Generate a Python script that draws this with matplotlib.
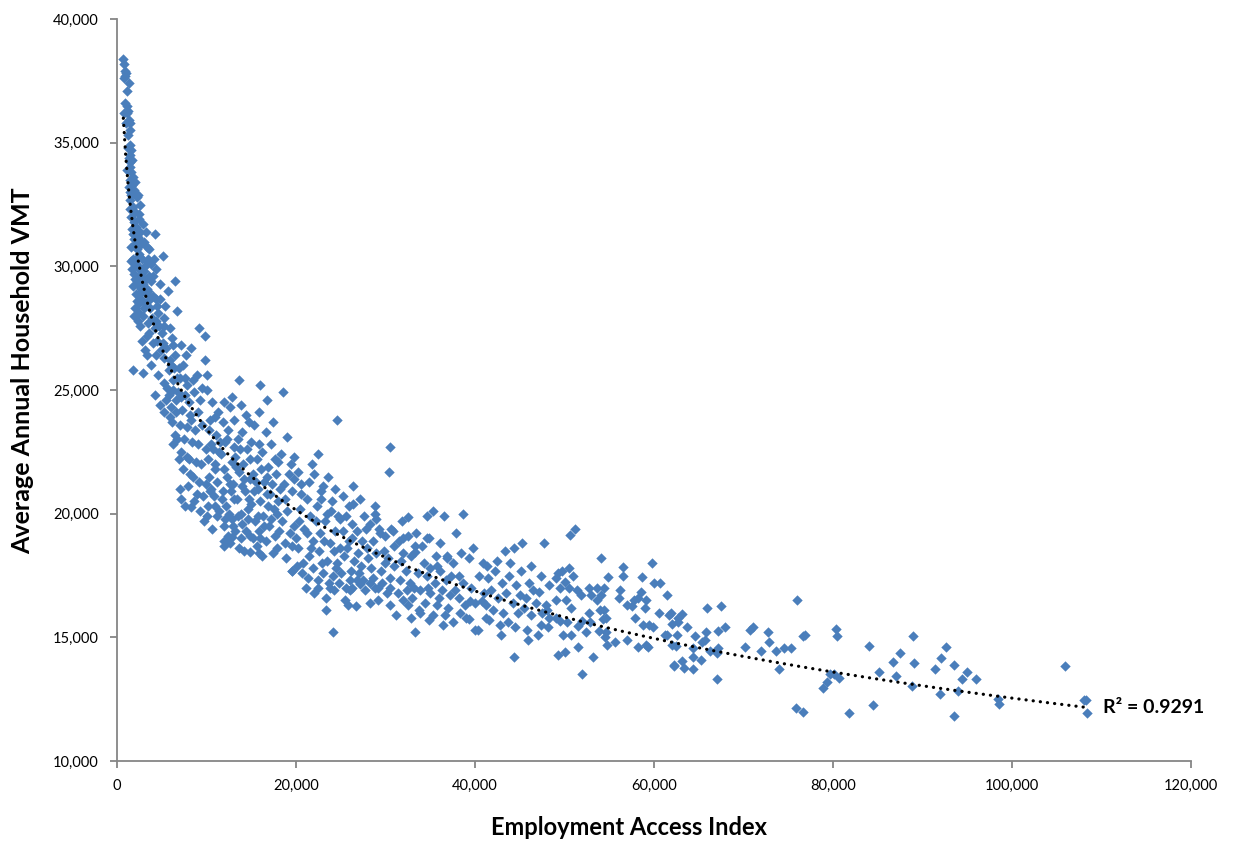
import numpy as np
import matplotlib
matplotlib.use("Agg")
import matplotlib.pyplot as plt
from matplotlib.ticker import FuncFormatter

plt.rcParams["font.family"] = ["Lato", "DejaVu Sans"]

# (employment access index, annual household VMT), both in thousands
steep_pts = [
    (0.7, 38.4), (0.75, 38.2), (0.9, 37.9), (1.0, 37.8), (0.8, 37.6), (0.9, 37.7), (1.3, 37.4), (1.1, 37.1),
    (0.9, 36.6), (1.1, 36.5), (1.1, 36.2), (0.8, 36.2), (1.2, 36.3), (1.5, 35.8), (1.0, 35.8), (1.3, 35.9),
    (1.2, 35.3), (1.4, 35.5), (1.5, 34.9), (1.6, 34.7), (1.5, 34.5), (1.3, 34.4), (1.4, 34.2), (1.5, 34.0),
    (1.6, 33.8), (1.8, 33.6), (1.5, 33.5), (1.3, 33.2), (1.7, 33.3), (1.4, 33.0), (1.9, 33.1), (1.6, 32.9),
    (2.2, 32.8), (1.5, 32.7), (2.6, 32.5), (1.8, 32.4), (2.0, 32.2), (1.6, 32.0), (2.4, 31.9), (1.9, 31.8),
    (2.9, 31.7), (2.1, 31.6), (1.7, 31.5), (4.2, 31.3), (2.6, 31.4), (2.3, 31.2), (1.9, 31.1), (3.0, 31.0),
    (2.7, 30.9), (1.6, 30.8), (3.3, 30.8), (2.2, 30.7), (2.5, 30.5), (5.1, 30.4), (1.8, 30.3), (2.8, 30.3),
    (3.4, 30.2), (2.1, 30.1), (3.8, 30.1), (2.5, 29.9), (4.4, 29.9), (3.0, 29.8), (1.9, 29.7), (2.6, 29.6),
    (3.6, 29.6), (6.5, 29.4), (2.2, 29.4), (2.9, 29.3), (4.8, 29.3), (1.8, 29.2), (3.3, 29.1), (5.7, 29.0),
    (2.4, 28.9), (4.0, 28.8), (2.7, 28.7), (3.1, 28.5), (2.0, 28.3), (3.7, 28.3), (6.7, 28.2), (2.4, 28.1),
    (4.6, 28.1), (2.9, 28.0), (5.2, 27.9), (2.3, 27.8), (3.5, 27.7), (4.2, 27.5), (3.3, 27.2), (5.0, 27.3),
    (6.1, 27.1), (4.0, 26.9), (3.1, 26.6), (4.4, 26.4), (3.8, 26.0), (1.8, 25.8), (2.9, 25.7),
    (1.2, 34.8), (1.7, 34.3), (1.1, 33.9), (2.0, 33.4), (1.4, 32.3), (2.3, 32.9), (1.8, 31.3), (2.5, 32.1),
    (3.2, 31.4), (2.0, 30.9), (2.8, 31.0), (3.6, 30.7), (1.6, 30.2), (2.3, 30.0), (3.1, 30.0), (4.0, 29.6),
    (2.0, 29.5), (2.7, 29.1), (3.5, 29.0), (4.3, 28.7), (2.2, 28.6), (3.0, 28.3), (3.9, 27.9), (2.6, 27.6),
    (4.7, 27.6), (3.3, 28.9), (2.5, 29.2), (3.8, 29.4), (2.1, 28.9), (1.7, 29.9), (2.8, 29.8), (3.2, 29.5),
    (4.1, 30.3), (4.8, 28.7), (5.4, 28.4), (3.6, 27.3), (4.5, 27.0), (2.8, 27.0), (3.4, 26.4), (4.9, 26.6),
    (2.5, 28.5), (1.9, 28.0), (2.4, 30.4), (3.5, 30.3), (2.9, 29.0), (3.7, 28.7), (4.5, 28.4), (5.3, 27.6),
    (5.9, 27.5), (4.3, 27.8), (5.1, 26.9), (6.0, 26.0), (5.2, 26.3), (6.3, 25.4), (6.9, 25.9), (5.8, 24.8),
    (7.6, 25.5), (6.6, 24.6),
]

near_pts = [
    (9.2, 27.5), (9.8, 27.2), (8.3, 26.7), (7.1, 26.8), (5.5, 26.7), (6.5, 26.4), (9.8, 26.2), (5.9, 26.2),
    (7.4, 26.0), (10.0, 25.6), (4.6, 25.6), (6.7, 25.5), (8.5, 25.4), (5.2, 25.3), (7.8, 25.2), (10.1, 25.0),
    (6.2, 25.0), (4.2, 24.8), (7.1, 24.7), (4.8, 24.4), (8.0, 24.5), (5.5, 24.6), (6.1, 23.7), (7.2, 22.5),
    (6.9, 22.2), (7.8, 22.3), (7.0, 21.0), (7.2, 20.6), (7.6, 20.3), (8.3, 20.25), (8.1, 21.6), (9.7, 19.7),
    (5.8, 25.8), (6.4, 25.9), (7.0, 25.5), (5.6, 25.1), (6.8, 24.9), (7.6, 24.8), (8.6, 24.9), (9.3, 24.6),
    (6.0, 24.3), (6.6, 24.1), (7.3, 24.2), (8.2, 24.0), (9.0, 24.1), (5.9, 23.9), (7.0, 23.6), (7.8, 23.5),
    (8.7, 23.4), (9.5, 23.6), (10.3, 23.4), (6.5, 23.2), (7.5, 23.0), (8.4, 22.9), (9.1, 22.8), (9.9, 22.6),
    (6.3, 22.8), (8.0, 22.2), (8.8, 22.1), (9.4, 22.0), (10.2, 22.2), (7.4, 21.8), (8.5, 21.5), (9.2, 21.3),
    (9.9, 21.2), (7.9, 21.1), (8.9, 20.8), (9.6, 20.7), (8.6, 20.5), (10.4, 20.9), (9.3, 20.1), (10.0, 19.9),
    (6.7, 23.0), (5.3, 24.1), (6.2, 26.8), (8.9, 25.6), (9.5, 25.1), (7.7, 26.4), (10.6, 24.5), (10.9, 23.9),
    (10.5, 22.8), (8.3, 23.8),
]

mid_pts = [
    (13.6, 25.4), (16.0, 25.2), (18.5, 24.9), (12.0, 24.5), (12.6, 24.3), (11.3, 24.1), (14.4, 24.0), (13.1, 23.8),
    (15.3, 23.6), (11.8, 23.7), (12.4, 23.4), (14.0, 23.3), (16.6, 23.3), (11.1, 23.2), (13.5, 23.0), (15.0, 22.9),
    (17.2, 22.8), (12.1, 22.9), (10.7, 22.6), (14.5, 22.6), (16.2, 22.5), (11.6, 22.4), (13.2, 22.3), (18.3, 22.4),
    (15.6, 22.2), (12.8, 22.1), (14.1, 22.0), (10.9, 22.0), (16.9, 21.9), (19.4, 22.0), (11.9, 21.8), (13.6, 21.7),
    (15.2, 21.6), (17.8, 21.6), (12.3, 21.5), (14.8, 21.4), (16.4, 21.3), (11.2, 21.3), (13.0, 21.2), (18.6, 21.2),
    (15.8, 21.0), (12.7, 20.9), (14.3, 20.9), (17.1, 20.8), (19.6, 20.9), (10.8, 20.7), (11.7, 20.6), (13.4, 20.6),
    (16.0, 20.5), (18.0, 20.5), (15.0, 20.4), (12.2, 20.3), (14.6, 20.2), (17.5, 20.2), (19.0, 20.1), (11.4, 20.1),
    (13.8, 20.0), (16.3, 19.9), (12.9, 19.8), (15.4, 19.7), (18.4, 19.7), (14.0, 19.6), (11.9, 19.5), (17.0, 19.5),
    (19.8, 19.5), (13.2, 19.3), (15.9, 19.3), (12.4, 19.1), (14.8, 19.1), (17.6, 19.1), (16.6, 18.9), (11.9, 18.7),
    (12.8, 19.07), (14.9, 18.45), (16.2, 18.3), (13.6, 18.6), (18.8, 18.8), (15.6, 18.7), (19.5, 17.7), (17.4, 18.4),
    (18.9, 18.2), (10.4, 23.8), (11.5, 22.9), (12.9, 24.7), (14.7, 23.7), (13.9, 24.4), (15.9, 24.1), (17.4, 23.7),
    (16.8, 24.6), (19.0, 23.1), (10.3, 21.5), (11.0, 21.8), (19.8, 21.4), (20.2, 21.7), (12.5, 20.0), (14.2, 21.4),
    (16.8, 21.5), (17.9, 20.0), (19.3, 19.2), (13.1, 20.6), (15.3, 20.9), (18.2, 21.0), (11.2, 19.9), (10.6, 19.4),
    (12.0, 18.9), (14.4, 19.3), (16.0, 19.0), (17.9, 18.6), (13.5, 19.9), (15.8, 19.9), (16.9, 20.3),
    (10.5, 21.0), (11.0, 20.3), (11.8, 20.9), (12.6, 21.2), (13.3, 21.9), (14.0, 21.1), (14.7, 20.6), (15.5, 21.3),
    (16.1, 21.8), (16.7, 20.8), (17.3, 21.2), (18.0, 22.1), (18.8, 20.6), (19.2, 21.6), (12.1, 19.8), (13.0, 19.5),
    (13.8, 19.0), (14.6, 19.8), (15.2, 19.0), (16.4, 19.5), (17.2, 19.8), (18.1, 19.3), (19.6, 18.7), (12.6, 18.8),
    (14.2, 18.5), (15.9, 18.4), (11.4, 22.5), (12.3, 23.0), (13.7, 22.6), (14.9, 22.2), (15.9, 22.8), (17.7, 22.2),
    (10.2, 20.3), (13.1, 22.7),
]

outer_pts = [
    (24.6, 23.8), (30.5, 22.7), (30.4, 21.7), (22.5, 22.4), (19.8, 22.3), (21.8, 22.0), (23.0, 21.1), (22.8, 20.9),
    (26.4, 21.1), (25.2, 20.7), (28.8, 20.3), (26.4, 20.4), (23.9, 20.1), (24.9, 19.8), (28.8, 20.0), (27.6, 19.9),
    (30.6, 19.4), (29.3, 19.4), (29.4, 19.2), (28.3, 19.6), (26.2, 19.6), (29.8, 18.5), (26.8, 17.3), (27.1, 17.15),
    (25.6, 17.0), (26.0, 16.9), (26.3, 17.0), (24.2, 16.9), (23.7, 17.2), (22.4, 17.3), (21.3, 17.4), (20.7, 17.6),
    (19.6, 17.7), (29.2, 17.0), (28.6, 17.4), (28.3, 17.2), (29.6, 17.2), (26.7, 16.25), (25.5, 16.5), (23.4, 16.1),
    (24.1, 15.2), (28.3, 16.4), (29.2, 16.5),
    (20.5, 21.2), (21.2, 20.6), (22.0, 21.6), (23.6, 21.5), (24.3, 21.0), (20.4, 20.2), (21.6, 19.9), (22.3, 20.3),
    (23.2, 19.7), (24.4, 19.3), (25.6, 19.9), (26.8, 19.3), (27.4, 18.9), (20.9, 19.4), (21.9, 18.9), (22.7, 19.2),
    (23.8, 18.8), (24.9, 18.6), (25.9, 18.9), (27.9, 18.6), (28.9, 18.4), (29.9, 19.1), (20.2, 18.6), (21.4, 18.3),
    (22.6, 18.5), (23.5, 18.1), (24.6, 18.0), (25.4, 18.3), (26.5, 18.1), (27.3, 17.9), (28.4, 17.8), (29.5, 17.7),
    (20.8, 18.0), (21.9, 17.8), (23.0, 17.6), (24.1, 17.5), (25.0, 17.6), (26.1, 17.7), (27.0, 17.6), (28.0, 18.2),
    (22.0, 16.8), (24.8, 17.2), (27.7, 16.9), (20.0, 19.0), (25.3, 19.3), (26.9, 18.4), (22.2, 19.7), (28.6, 18.9),
    (24.0, 20.5), (27.2, 20.6), (21.1, 17.0), (23.3, 16.6), (29.9, 18.0), (25.8, 16.3),
    (20.6, 20.8), (21.5, 21.3), (22.8, 20.6), (23.5, 20.0), (24.7, 19.9), (25.9, 20.3), (20.3, 19.7), (21.2, 19.2),
    (23.1, 18.9), (24.2, 18.5), (25.7, 18.6), (26.3, 19.0), (27.8, 19.4), (28.9, 19.8), (21.7, 18.6), (22.9, 18.0),
    (24.5, 17.8), (26.0, 17.3), (27.5, 17.3), (28.8, 17.0), (20.1, 17.9), (22.5, 17.0), (23.8, 17.0),
    (35.3, 20.1), (34.6, 19.9), (36.5, 19.9), (38.6, 20.0), (32.5, 19.85), (31.8, 19.7), (33.4, 19.2), (32.0, 19.0),
    (32.5, 19.1), (34.6, 19.0), (34.9, 19.0), (36.1, 18.8), (38.4, 18.4), (39.3, 18.2), (36.9, 18.3), (36.9, 18.2),
    (33.3, 18.7), (33.3, 18.45), (32.9, 18.3), (34.1, 18.7), (30.9, 18.7), (32.0, 18.4), (40.9, 18.0), (41.3, 17.9),
    (35.7, 17.9), (35.0, 17.8), (36.1, 17.7), (37.3, 17.5), (38.2, 17.5), (40.4, 17.5), (34.6, 17.5), (32.7, 17.2),
    (31.6, 17.3), (30.5, 17.4), (30.5, 17.0), (30.2, 16.8), (31.4, 16.8), (32.4, 16.9), (33.2, 17.0), (33.9, 16.9),
    (34.7, 17.0), (35.0, 16.8), (36.3, 16.9), (37.2, 16.7), (38.2, 16.6), (39.4, 16.45), (40.0, 16.4), (40.8, 16.45),
    (41.2, 15.8), (40.0, 15.3), (40.3, 15.3), (39.0, 15.8), (39.3, 15.75), (38.3, 16.0), (36.6, 15.9), (35.3, 15.9),
    (36.4, 15.5), (33.7, 16.1), (33.9, 16.0), (32.5, 16.3), (30.5, 16.3), (33.3, 15.2),
    (31.0, 17.9), (31.7, 18.1), (30.3, 18.2), (32.3, 17.7), (33.6, 17.6), (34.3, 18.0), (35.6, 18.3), (37.5, 18.0),
    (38.7, 17.2), (39.6, 17.0), (37.8, 16.9), (36.7, 17.3), (35.5, 17.2), (33.0, 16.6), (31.9, 16.5), (34.4, 16.4),
    (35.8, 16.3), (37.0, 16.2), (38.9, 16.3), (31.2, 15.9), (32.8, 15.8), (34.9, 15.7), (37.5, 15.6), (36.0, 16.6),
    (30.8, 19.3), (31.5, 18.9), (37.9, 19.2), (39.8, 18.6),
]

far_pts = [
    (51.2, 19.4), (50.6, 19.15), (45.3, 18.8), (44.3, 18.6), (43.4, 18.5), (47.7, 18.8), (46.3, 17.9), (45.1, 17.7),
    (49.3, 17.6), (49.7, 17.7), (50.5, 17.8), (47.4, 17.5), (50.9, 17.5), (50.1, 17.25), (49.1, 17.4), (48.3, 17.1),
    (49.5, 17.0), (50.5, 17.0), (51.4, 16.9), (46.5, 16.9), (47.1, 16.85), (45.7, 16.6), (45.0, 16.7), (51.8, 16.7),
    (49.0, 16.5), (50.2, 16.5), (47.9, 16.3), (48.0, 16.1), (50.7, 16.2), (48.3, 15.8), (49.1, 15.8), (49.5, 15.65),
    (51.9, 15.65), (51.5, 15.45), (50.3, 15.6), (45.8, 15.3), (47.4, 15.5), (48.1, 15.4), (49.8, 15.1), (50.7, 15.1),
    (51.5, 14.6), (49.3, 14.3), (50.0, 14.4), (44.3, 14.2), (51.9, 13.5),
    (41.5, 17.4), (42.2, 17.7), (43.0, 17.2), (43.8, 17.5), (44.6, 17.1), (41.8, 16.9), (42.6, 16.6), (43.5, 16.8),
    (44.2, 16.4), (41.2, 16.3), (42.0, 16.1), (43.1, 16.0), (44.8, 16.0), (45.5, 16.2), (46.2, 15.9), (41.6, 15.7),
    (42.8, 15.5), (43.7, 15.6), (44.5, 15.4), (46.8, 16.4), (47.5, 16.0), (42.4, 18.1), (43.9, 18.0), (41.0, 16.8),
    (42.9, 15.1), (46.0, 17.2), (45.9, 14.9), (47.0, 15.1),
    (52.7, 17.0), (53.6, 17.0), (54.4, 17.0), (56.2, 16.9), (58.5, 16.85), (61.5, 16.7), (53.0, 16.7), (54.1, 16.7),
    (53.6, 16.5), (56.1, 16.6), (57.0, 16.3), (57.8, 16.5), (58.2, 16.6), (57.5, 16.25), (59.1, 16.5), (52.7, 16.0),
    (54.0, 16.1), (54.4, 16.1), (54.6, 15.8), (54.3, 15.75), (57.9, 15.8), (59.0, 16.2), (60.5, 16.0), (61.7, 15.9),
    (62.7, 15.8), (52.9, 15.6), (52.4, 15.2), (53.9, 15.25), (54.6, 15.2), (54.5, 15.0), (54.8, 14.7), (55.6, 14.8),
    (57.0, 14.9), (58.2, 14.6), (58.8, 15.5), (59.4, 15.5), (59.9, 15.4), (61.2, 15.1), (61.5, 15.1), (62.5, 14.65),
    (59.1, 14.7), (59.3, 14.6), (53.2, 14.2), (62.2, 13.9), (54.1, 18.2), (59.8, 18.0), (56.5, 17.85), (54.9, 17.45),
    (56.5, 17.5), (58.7, 17.45), (60.0, 17.2), (60.7, 17.2),
]

tail_pts = [
    (76.0, 16.5), (65.9, 16.2), (67.5, 16.25), (63.1, 15.95), (61.9, 16.0), (62.7, 15.6), (62.0, 15.55), (63.7, 15.4),
    (70.7, 15.3), (71.1, 15.4), (72.7, 15.2), (67.2, 15.25), (67.9, 15.4), (65.8, 15.2), (62.6, 15.1), (64.6, 15.05),
    (65.7, 14.9), (65.4, 14.8), (72.8, 14.8), (76.7, 15.05), (76.9, 15.1), (80.3, 15.35), (80.4, 15.05), (62.0, 14.7),
    (64.4, 14.55), (67.2, 14.55), (67.0, 14.35), (66.3, 14.45), (70.2, 14.6), (71.9, 14.45), (73.6, 14.45), (74.5, 14.55),
    (75.3, 14.55), (84.0, 14.65), (63.1, 14.05), (64.3, 14.2), (65.3, 14.1), (62.2, 13.85), (63.4, 13.75), (64.3, 13.7),
    (67.0, 13.3), (74.0, 13.7), (79.7, 13.5), (80.1, 13.5), (79.3, 13.2), (78.9, 12.95), (80.7, 13.35), (75.9, 12.15),
    (76.6, 12.0), (81.8, 11.95), (88.9, 15.05), (87.5, 14.35), (86.7, 14.0), (89.0, 13.95), (85.1, 13.6), (87.0, 13.45),
    (88.8, 13.05), (84.5, 12.25), (92.6, 14.6), (92.1, 14.15), (93.5, 13.9), (91.4, 13.7), (95.0, 13.6), (94.4, 13.3),
    (96.0, 13.3), (94.0, 12.85), (91.9, 12.7), (93.5, 11.8), (98.4, 12.5), (98.5, 12.3), (105.9, 13.85), (108.0, 12.45),
    (108.3, 12.45), (108.4, 11.95),
]

r2_label = "R² = 0.9291"
x_ticks = [0, 20000, 40000, 60000, 80000, 100000, 120000]
y_ticks = [10000, 15000, 20000, 25000, 30000, 35000, 40000]

pts = np.array(steep_pts + near_pts + mid_pts + outer_pts + far_pts + tail_pts) * 1000
access, vmt = pts[:, 0], pts[:, 1]

fig = plt.figure(figsize=(12.36, 8.42), dpi=100)
ax = fig.add_axes([0.0947, 0.0962, 0.8689, 0.8812])

ax.scatter(access, vmt, marker="D", s=28, color="#4A7EBB", linewidths=0, zorder=2)

# logarithmic trend line, fitted to the points
slope, icpt = np.polyfit(np.log(access), vmt, 1)
xs = np.linspace(access.min(), access.max(), 400)
ax.plot(xs, slope * np.log(xs) + icpt, color="black", lw=2.3,
        linestyle=(0, (0.05, 2.2)), dash_capstyle="round", zorder=3)
ax.text(access.max() + 1800, slope * np.log(access.max()) + icpt, r2_label,
        fontsize=14, fontweight="bold", va="center", ha="left")

ax.set_xlim(0, 120000)
ax.set_ylim(10000, 40000)
ax.set_xticks(x_ticks)
ax.set_yticks(y_ticks)
fmt = FuncFormatter(lambda v, p: f"{int(v):,}")
ax.xaxis.set_major_formatter(fmt)
ax.yaxis.set_major_formatter(fmt)

for s in ["top", "right"]:
    ax.spines[s].set_visible(False)
for s in ["left", "bottom"]:
    ax.spines[s].set_color("#868686")
    ax.spines[s].set_linewidth(1.3)
ax.tick_params(direction="out", length=5, width=1.3, color="#868686",
               labelsize=10.5, labelcolor="#000000", pad=8)

ax.set_xlabel("Employment Access Index", fontsize=17, fontweight="bold", va="center")
ax.set_ylabel("Average Annual Household VMT", fontsize=18, fontweight="bold", va="center")
# excel puts the titles a bit off the plot centre
ax.xaxis.set_label_coords(0.477, -0.090)
ax.yaxis.set_label_coords(-0.088, 0.526)

fig.savefig("out.png", dpi=100)
